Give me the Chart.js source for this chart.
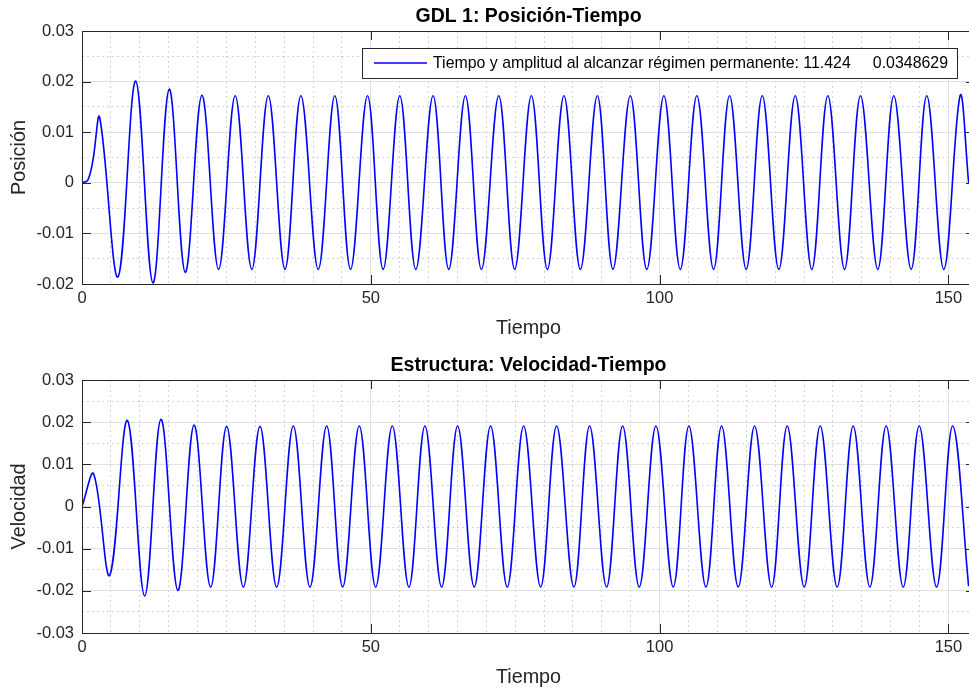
<!DOCTYPE html>
<html>
<head>
<meta charset="utf-8">
<script src="https://cdn.jsdelivr.net/npm/chart.js@4.4.0/dist/chart.umd.min.js"></script>
<style>
  html, body { margin: 0; padding: 0; background: #fff; overflow: hidden; }
  .panel { position: absolute; left: 0; }
</style>
</head>
<body>
<div class="panel" style="top:0"><canvas id="posChart" width="980" height="346"></canvas></div>
<div class="panel" style="top:346px"><canvas id="velChart" width="980" height="347"></canvas></div>
<script>
// GDL 1 position: start of the response, then alternating peaks and troughs
const posTime = [0, 1.0, 1.9, 3.06, 6.23, 9.29, 12.28, 15.10, 17.88, 20.76, 23.65, 26.52, 29.40,
  32.25, 35.14, 37.90, 40.90, 43.77, 46.49, 49.43, 52.13, 55.02, 57.79, 60.78, 63.49, 66.38, 69.15,
  72.15, 74.91, 77.80, 80.57, 83.44, 86.28, 89.22, 91.92, 94.93, 97.78, 100.74, 103.58, 106.45,
  109.34, 112.11, 114.99, 117.77, 120.64, 123.48, 126.35, 129.12, 132.01, 134.78, 137.77, 140.54,
  143.55, 146.25, 149.19, 152.02, 153.5];
const posValue = [0, 0.0005, 0.0045, 0.0129, -0.0186, 0.0201, -0.0198, 0.0185, -0.0177, 0.0173, -0.0171, 0.0172, -0.0171,
  0.0172, -0.0171, 0.0172, -0.0171, 0.0172, -0.0171, 0.0172, -0.0171, 0.0172, -0.0171, 0.0172, -0.0171, 0.0172, -0.0171,
  0.0172, -0.0171, 0.0172, -0.0171, 0.0172, -0.0171, 0.0172, -0.0171, 0.0172, -0.0171, 0.0172, -0.0171, 0.0172,
  -0.0171, 0.0172, -0.0171, 0.0172, -0.0171, 0.0172, -0.0171, 0.0172, -0.0171, 0.0172, -0.0171, 0.0172,
  -0.0171, 0.0172, -0.0171, 0.0172, 0];

// structure velocity
const velTime = [0, 2.02, 4.79, 7.85, 10.85, 13.67, 16.60, 19.40, 22.27, 25.04, 27.93, 30.81, 33.70,
  36.58, 39.47, 42.36, 45.13, 48.00, 50.84, 53.72, 56.60, 59.37, 62.26, 65.03, 67.90, 70.74, 73.62,
  76.46, 79.40, 82.17, 85.16, 87.88, 90.82, 93.60, 96.47, 99.36, 102.36, 105.07, 108.02, 110.73,
  113.61, 116.44, 119.39, 122.09, 125.03, 127.80, 130.74, 133.51, 136.40, 139.22, 142.17, 144.94,
  147.95, 150.72, 153.5];
const velValue = [0, 0.0077, -0.0163, 0.0204, -0.0212, 0.0207, -0.0199, 0.0193, -0.0191, 0.0190, -0.0191, 0.0190, -0.0191,
  0.0191, -0.0191, 0.0191, -0.0191, 0.0191, -0.0191, 0.0191, -0.0191, 0.0191, -0.0191, 0.0191, -0.0191, 0.0191, -0.0191,
  0.0191, -0.0191, 0.0191, -0.0191, 0.0191, -0.0191, 0.0191, -0.0191, 0.0191, -0.0191, 0.0191, -0.0191, 0.0191,
  -0.0191, 0.0191, -0.0191, 0.0191, -0.0191, 0.0191, -0.0191, 0.0191, -0.0191, 0.0191, -0.0191, 0.0191,
  -0.0191, 0.0191, -0.0189];

const timeMax = 154.6;
const posRange = [-0.02, 0.03];
const velRange = [-0.03, 0.03];
const legendLabel = 'Tiempo y amplitud al alcanzar régimen permanente: 11.424     0.0348629';

const FONT = '"Liberation Sans", Arial, Helvetica, sans-serif';
const TEXT = '#262626';
const MAJOR_GRID = '#e0e0e0';
const MINOR_GRID = '#d4d4d4';

// box around the axes with inward ticks, like a MATLAB axes
const axesFrame = {
  id: 'axesFrame',
  afterDatasetsDraw(chart) {
    const { ctx, chartArea: a, scales } = chart;
    const len = 9;
    ctx.save();
    ctx.strokeStyle = TEXT;
    ctx.lineWidth = 1;
    ctx.beginPath();
    scales.x.ticks.forEach(t => {
      const px = Math.round(scales.x.getPixelForValue(t.value)) + 0.5;
      ctx.moveTo(px, a.bottom); ctx.lineTo(px, a.bottom - len);
      ctx.moveTo(px, a.top); ctx.lineTo(px, a.top + len);
    });
    scales.y.ticks.forEach(t => {
      const py = Math.round(scales.y.getPixelForValue(t.value)) + 0.5;
      ctx.moveTo(a.left, py); ctx.lineTo(a.left + len, py);
      ctx.moveTo(a.right, py); ctx.lineTo(a.right - len, py);
    });
    ctx.stroke();
    ctx.strokeRect(Math.round(a.left) + 0.5, Math.round(a.top) + 0.5,
      Math.round(a.right - a.left), Math.round(a.bottom - a.top));
    ctx.restore();
  }
};

// legend drawn as a framed box inside the plot area
const boxLegend = {
  id: 'boxLegend',
  afterDraw(chart) {
    const ds = chart.data.datasets[0];
    const { ctx, chartArea: a } = chart;
    ctx.save();
    ctx.font = '15.9px ' + FONT;
    const textW = ctx.measureText(ds.label).width;
    const h = 30, right = a.right - 18, top = a.top + 17;
    const w = 12 + 53 + 6 + textW + 9;
    const left = Math.round(right - w);
    ctx.fillStyle = '#fff';
    ctx.fillRect(left, top, right - left, h);
    ctx.strokeStyle = TEXT;
    ctx.lineWidth = 1;
    ctx.strokeRect(left + 0.5, top + 0.5, right - left, h);
    ctx.strokeStyle = ds.borderColor;
    ctx.lineWidth = 1.5;
    ctx.beginPath();
    ctx.moveTo(left + 12, top + h / 2);
    ctx.lineTo(left + 65, top + h / 2);
    ctx.stroke();
    ctx.fillStyle = '#000';
    ctx.textBaseline = 'middle';
    ctx.fillText(ds.label, left + 71, top + h / 2 + 1);
    ctx.restore();
  }
};

function buildChart(id, cfg) {
  const points = cfg.time.map((t, i) => ({ x: t, y: cfg.value[i] }));
  return new Chart(document.getElementById(id), {
    type: 'line',
    data: {
      datasets: [{
        label: cfg.label,
        data: points,
        borderColor: '#0000ff',
        borderWidth: 1.6,
        pointRadius: 0,
        fill: false,
        tension: 0.37
      }]
    },
    options: {
      responsive: false,
      animation: false,
      events: [],
      layout: { padding: { left: 0, right: 5, top: 0, bottom: 0 } },
      plugins: {
        legend: { display: false },
        tooltip: { enabled: false },
        title: {
          display: true,
          text: cfg.title,
          fullSize: false,
          color: '#000',
          font: { family: FONT, size: 19.5, weight: 'bold' },
          padding: cfg.titlePad
        }
      },
      scales: {
        x: {
          type: 'linear',
          min: 0,
          max: timeMax,
          ticks: { stepSize: 50, includeBounds: false, maxRotation: 0, color: TEXT, padding: 5,
            font: { family: FONT, size: 16.5 } },
          grid: { color: MAJOR_GRID, drawTicks: false },
          border: { display: false },
          title: { display: true, text: 'Tiempo', color: TEXT, font: { family: FONT, size: 19.8 },
            padding: { top: 0, bottom: cfg.xTitlePad } },
          afterFit: s => { s.height = cfg.xHeight; }
        },
        xMinor: {
          type: 'linear',
          position: 'bottom',
          min: 0,
          max: timeMax,
          ticks: { display: false, stepSize: 5, includeBounds: false },
          grid: { drawTicks: false,
            color: c => (c.tick && c.tick.value % 50 !== 0) ? MINOR_GRID : 'rgba(0,0,0,0)' },
          border: { display: false, dash: [2, 3] },
          afterFit: s => { s.height = 0; }
        },
        y: {
          min: cfg.range[0],
          max: cfg.range[1],
          ticks: { stepSize: 0.01, color: TEXT, padding: 8, font: { family: FONT, size: 16.5 },
            callback: v => String(+v.toFixed(2)) },
          grid: { color: MAJOR_GRID, drawTicks: false },
          border: { display: false },
          title: { display: true, text: cfg.yTitle, color: TEXT, font: { family: FONT, size: 19.8 },
            padding: { top: 7.4, bottom: 0 } },
          afterFit: s => { s.width = 82; }
        },
        yMinor: {
          position: 'left',
          min: cfg.range[0],
          max: cfg.range[1],
          ticks: { display: false, stepSize: 0.005 },
          grid: { drawTicks: false,
            color: c => (c.tick && Math.round(c.tick.value * 1000) % 10 !== 0) ? MINOR_GRID : 'rgba(0,0,0,0)' },
          border: { display: false, dash: [2, 3] },
          afterFit: s => { s.width = 0; }
        }
      }
    },
    plugins: cfg.legend ? [axesFrame, boxLegend] : [axesFrame]
  });
}

buildChart('posChart', {
  time: posTime, value: posValue, label: legendLabel, legend: true,
  title: 'GDL 1: Posición-Tiempo', yTitle: 'Posición', range: posRange,
  titlePad: { top: 5.3, bottom: 2.3 }, xHeight: 62, xTitlePad: 5.4
});

buildChart('velChart', {
  time: velTime, value: velValue, label: 'Velocidad', legend: false,
  title: 'Estructura: Velocidad-Tiempo', yTitle: 'Velocidad', range: velRange,
  titlePad: { top: 8.3, bottom: 2.3 }, xHeight: 60, xTitlePad: 3.4
});
</script>
</body>
</html>
